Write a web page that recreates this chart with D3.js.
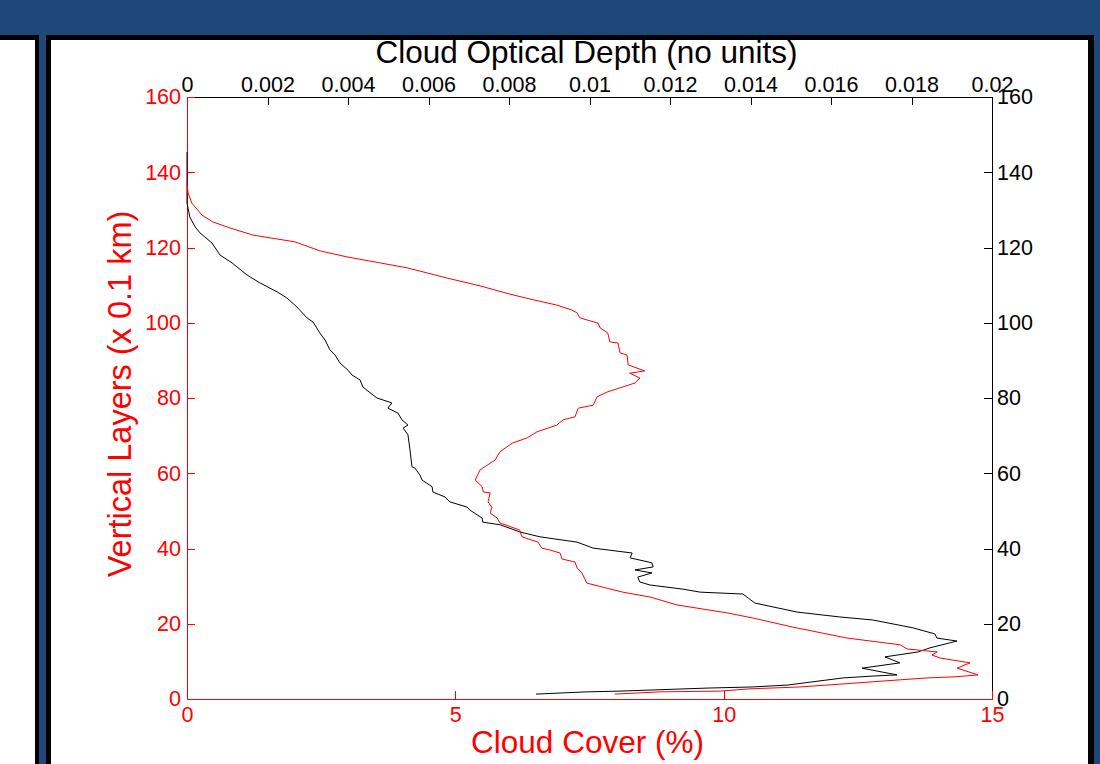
<!DOCTYPE html>
<html>
<head>
<meta charset="utf-8">
<script src="https://cdn.jsdelivr.net/npm/d3@7"></script>
<style>
  body { margin: 0; background: #1f487a; }
  svg text { font-family: "Liberation Sans", Arial, sans-serif; }
</style>
</head>
<body>
<div class="canvas"></div>
<script>
// cloud cover (%) per vertical layer - red curve, bottom axis
const coverLayers = [1.3, 1.9, 2.1, 2.7, 3.2, 4.0, 5.1, 5.6, 5.9, 6.4, 8.2, 9.6, 10.9, 11.7, 12.5, 13.3, 14.4, 16.2, 19.1, 21.5, 22.9, 25.0, 27.1, 28.4, 30.8, 33.5, 34.8, 36.4, 37.2, 38.8, 39.6, 40.1, 41.7, 43.1, 44.9, 46.8, 48.1, 49.4, 51.0, 52.4, 54.8, 55.0, 56.4, 58.2, 60.9, 63.5, 65.7, 68.0, 69.4, 71.0, 72.8, 74.2, 75.0, 77.3, 78.1, 80.3, 81.6, 82.7, 84.0, 85.3, 86.6, 87.2, 88.8, 91.4, 92.0, 94.6, 94.9, 97.3, 98.6, 99.9, 101.3, 102.6, 103.4, 104.7, 106.1, 107.6, 109.8, 111.9, 114.6, 115.9, 117.5, 119.1, 121.5, 123.3, 125.2, 126.8, 128.6, 130.8, 131.8, 134.5, 137.1]
const coverValues = [7.97, 8.81, 9.93, 10.49, 11.42, 12.22, 13.29, 13.79, 14.31, 14.74, 14.35, 14.59, 14.03, 13.88, 13.98, 13.42, 13.29, 12.30, 11.29, 10.55, 10.06, 9.13, 8.63, 8.12, 7.45, 7.36, 7.27, 7.23, 6.99, 6.95, 6.76, 6.61, 6.54, 6.24, 6.20, 5.83, 5.78, 5.65, 5.68, 5.61, 5.65, 5.52, 5.50, 5.37, 5.46, 5.74, 5.83, 6.06, 6.34, 6.52, 6.89, 7.01, 7.23, 7.29, 7.57, 7.64, 7.83, 8.07, 8.35, 8.44, 8.25, 8.53, 8.22, 8.20, 8.07, 8.03, 7.88, 7.84, 7.70, 7.66, 7.32, 7.27, 7.17, 6.89, 6.45, 6.02, 5.46, 4.84, 4.10, 3.60, 2.98, 2.48, 2.01, 1.23, 0.80, 0.48, 0.28, 0.15, 0.09, 0.02, 0]

// cloud optical depth per vertical layer - black curve, top axis
const depthLayers = [1.3, 1.9, 2.1, 2.9, 3.2, 3.7, 5.6, 6.1, 6.4, 8.2, 9.6, 11.2, 12.5, 13.6, 15.4, 16.2, 17.3, 18.9, 21.0, 21.8, 23.1, 25.5, 27.9, 28.4, 29.2, 30.3, 31.1, 32.4, 33.5, 34.3, 35.1, 36.2, 37.5, 38.8, 40.1, 41.7, 43.1, 44.4, 46.3, 47.0, 48.1, 50.2, 51.0, 52.4, 53.7, 55.0, 56.4, 58.2, 59.5, 61.4, 61.7, 66.2, 70.2, 72.0, 72.8, 74.2, 76.0, 77.3, 78.7, 80.0, 80.8, 82.9, 84.8, 86.1, 87.4, 89.3, 91.4, 92.8, 95.4, 97.3, 100.2, 101.3, 104.2, 106.6, 108.2, 110.6, 112.7, 115.9, 118.0, 121.2, 123.9, 125.5, 128.1, 131.8, 145.4]
const depthValues = [0.00867, 0.00994, 0.01076, 0.01292, 0.01404, 0.01491, 0.01630, 0.01704, 0.01764, 0.01677, 0.01771, 0.01734, 0.01816, 0.01846, 0.01913, 0.01863, 0.01858, 0.01804, 0.01704, 0.01622, 0.01516, 0.01411, 0.01381, 0.01275, 0.01232, 0.01150, 0.01125, 0.01120, 0.01155, 0.01113, 0.01158, 0.01155, 0.01101, 0.01106, 0.01009, 0.00969, 0.00877, 0.00827, 0.00778, 0.00735, 0.00733, 0.00703, 0.00696, 0.00653, 0.00641, 0.00611, 0.00609, 0.00584, 0.00579, 0.00566, 0.00559, 0.00554, 0.00549, 0.00537, 0.00549, 0.00534, 0.00524, 0.00499, 0.00509, 0.00472, 0.00462, 0.00437, 0.00430, 0.00410, 0.00400, 0.00380, 0.00368, 0.00355, 0.00343, 0.00330, 0.00313, 0.00298, 0.00273, 0.00248, 0.00224, 0.00181, 0.00149, 0.00112, 0.00082, 0.00062, 0.00032, 0.00020, 0.00007, 0, 0]

// tick labels
const layerTicks = [0, 20, 40, 60, 80, 100, 120, 140, 160]
const coverTicks = [0, 5, 10, 15]
const depthTicks = [0, 0.002, 0.004, 0.006, 0.008, 0.01, 0.012, 0.014, 0.016, 0.018, 0.02]

const dimensions = { width: 1100, height: 764 }
const margin = { top: 97, right: 108, bottom: 65, left: 187 }
const graphWidth = dimensions.width - margin.left - margin.right
const graphHeight = dimensions.height - margin.top - margin.bottom

const svg = d3.select('.canvas')
    .append('svg')
    .attr('width', dimensions.width)
    .attr('height', dimensions.height)
    .style('display', 'block')

// panels (page framing)
svg.append('rect').attr('x', -10).attr('y', 35).attr('width', 49).attr('height', 800).attr('fill', '#000')
svg.append('rect').attr('x', -10).attr('y', 40).attr('width', 45).attr('height', 800).attr('fill', '#fff')
svg.append('rect').attr('x', 46).attr('y', 35).attr('width', 1048).attr('height', 800).attr('fill', '#000')
svg.append('rect').attr('x', 51).attr('y', 40).attr('width', 1037).attr('height', 800).attr('fill', '#fff')

const graph = svg.append('g')
    .attr('transform', `translate(${margin.left}, ${margin.top})`)

// scales
const y = d3.scaleLinear().domain([0, 160]).range([graphHeight, 0])
const xCover = d3.scaleLinear().domain([0, 15]).range([0, graphWidth])
const xDepth = d3.scaleLinear().domain([0, 0.02]).range([0, graphWidth])

// axes (ticks point inward)
const yLeft = d3.axisLeft(y).tickValues(layerTicks).tickSizeInner(-8).tickSizeOuter(0).tickPadding(6)
const yRight = d3.axisRight(y).tickValues(layerTicks).tickSizeInner(-8).tickSizeOuter(0).tickPadding(5)
const xBottom = d3.axisBottom(xCover).tickValues(coverTicks).tickSizeInner(-8).tickSizeOuter(0).tickPadding(8)
const xTop = d3.axisTop(xDepth).tickValues(depthTicks).tickSizeInner(-8).tickSizeOuter(0).tickPadding(5)
    .tickFormat(d => String(d))

const styleAxis = (g, color) => {
    g.attr('font-size', 21.5).attr('font-family', null)
    g.select('.domain').attr('stroke', color).attr('shape-rendering', 'crispEdges')
    g.selectAll('.tick line').attr('stroke', color).attr('shape-rendering', 'crispEdges')
    g.selectAll('.tick text').attr('fill', color)
}

graph.append('g').call(xTop).call(g => styleAxis(g, '#000'))
graph.append('g').attr('transform', `translate(${graphWidth}, 0)`).call(yRight).call(g => styleAxis(g, '#000'))
graph.append('g').call(yLeft).call(g => styleAxis(g, '#ff0000'))
graph.append('g').attr('transform', `translate(0, ${graphHeight})`).call(xBottom).call(g => styleAxis(g, '#ff0000'))

// curves
const coverLine = d3.line()
    .x((d, i) => xCover(d))
    .y((d, i) => y(coverLayers[i]))
const depthLine = d3.line()
    .x((d, i) => xDepth(d))
    .y((d, i) => y(depthLayers[i]))

graph.append('path')
    .datum(depthValues)
    .attr('d', depthLine)
    .attr('fill', 'none')
    .attr('stroke', '#000')
    .attr('stroke-width', 1)

graph.append('path')
    .datum(coverValues)
    .attr('d', coverLine)
    .attr('fill', 'none')
    .attr('stroke', '#ff0000')
    .attr('stroke-width', 1)

// axis titles
svg.append('text')
    .attr('x', margin.left + graphWidth / 2 - 3)
    .attr('y', 63)
    .attr('text-anchor', 'middle')
    .attr('font-size', 31.5)
    .attr('fill', '#000')
    .text('Cloud Optical Depth (no units)')

svg.append('text')
    .attr('x', margin.left + graphWidth / 2 - 2)
    .attr('y', 753)
    .attr('text-anchor', 'middle')
    .attr('font-size', 31.5)
    .attr('fill', '#ff0000')
    .text('Cloud Cover (%)')

svg.append('text')
    .attr('transform', `translate(131, ${margin.top + graphHeight / 2 - 4}) rotate(-90)`)
    .attr('text-anchor', 'middle')
    .attr('font-size', 32.5)
    .attr('fill', '#ff0000')
    .text('Vertical Layers (x 0.1 km)')
</script>
</body>
</html>
